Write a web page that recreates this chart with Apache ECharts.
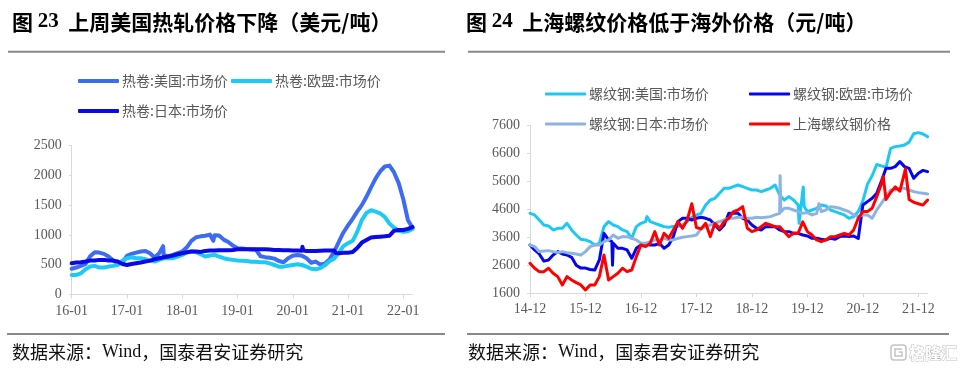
<!DOCTYPE html>
<html>
<head>
<meta charset="utf-8">
<script src="https://cdn.jsdelivr.net/npm/echarts@6/dist/echarts.min.js"></script>
<style>
html,body{margin:0;padding:0;background:#fff;}
#c{width:965px;height:371px;}
</style>
</head>
<body>
<div id="c"></div>
<script>
// ---------- Left chart: 热卷 (USD/t), monthly 2016-01 .. 2022-03 (index 0..74) ----------
const xTicksL = [0, 12, 24, 36, 48, 60, 72];
const xLabelsL = ['16-01', '17-01', '18-01', '19-01', '20-01', '21-01', '22-01'];
const hrcUS = [
  430,450,478,511,640,708,702,680,635,567,522,534,
  646,680,702,720,730,690,620,690,660,640,663,691,
  719,790,900,960,975,985,1005,995,990,920,880,820,
  775,770,760,755,750,640,625,615,600,560,540,606,
  650,662,650,606,530,550,500,520,590,720,880,1040,
  1160,1270,1390,1500,1640,1800,1950,2070,2150,2165,2050,1870,
  1600,1250,1120
];
const hrcUSExtra = [[19.85, 810], [30.75, 900]];
const hrcEU = [
  326,326,354,421,466,478,450,450,466,478,494,567,
  607,624,607,607,590,567,551,579,607,607,607,635,
  663,702,719,710,674,635,652,663,635,607,590,579,
  567,566,560,549,549,538,538,521,493,465,465,482,
  493,505,493,465,430,420,440,490,560,600,700,810,
  860,900,1050,1250,1370,1415,1390,1360,1300,1190,1120,1070,
  1050,1060,1100
];
const hrcEUExtra = [];
const hrcJP = [
  522,534,539,551,567,567,579,579,567,567,551,511,
  494,511,522,534,551,567,590,607,624,635,652,674,
  691,708,719,719,713,730,736,736,742,742,742,747,
  758,757,760,760,760,760,757,752,747,745,742,740,
  738,735,733,730,730,730,733,735,735,735,690,700,
  700,710,780,870,915,955,965,970,975,985,1070,1083,
  1083,1100,1130
];
const hrcJPExtra = [[50.1, 800], [50.3, 735], [57.3, 695]];

// ---------- Right chart: 螺纹钢 (CNY/t), monthly 2014-12 .. 2022-02 (index 0..86) ----------
const xTicksR = [0, 12, 24, 36, 48, 60, 72, 84];
const xLabelsR = ['14-12', '15-12', '16-12', '17-12', '18-12', '19-12', '20-12', '21-12'];
const rebarUS = [
  4457,4398,4219,4040,4005,3862,3921,3921,4100,3862,3683,3529,
  3505,3445,3326,3386,3981,4160,4040,3981,3862,3802,3564,3981,
  4100,4160,4160,4100,4040,3981,3957,3990,3990,4040,4160,4314,
  4398,4457,4755,4933,4993,5171,5350,5350,5410,5469,5410,5350,
  5290,5290,5231,5290,5350,5469,5112,4933,5052,4933,4755,4636,
  4517,4576,4636,4755,4719,4576,4517,4457,4398,4279,4338,4517,
  4900,5500,5800,6200,6150,6100,6779,6838,6862,6898,7000,7300,
  7338,7290,7195
];
const rebarUSExtra = [[25.3, 4340], [58.2, 4100], [58.6, 4700], [59.1, 5400], [59.3, 4700]];
const rebarEU = [
  3326,3148,3005,2750,2790,2969,3088,3005,2969,2886,2600,2500,
  2500,2450,2430,2790,3743,3505,3386,3207,3207,3148,2850,3207,
  3326,3386,3326,3326,3386,3207,3326,3624,4160,4279,4279,4219,
  4279,4314,4279,4219,4040,3862,4040,4457,4457,4457,4279,4219,
  4040,3921,3862,3981,3981,3981,3862,3802,3802,3743,3743,3683,
  3648,3564,3564,3529,3505,3564,3529,3624,3648,3624,3648,3560,
  4755,4874,4993,5171,5600,6064,6064,6124,6302,6124,6064,5707,
  5886,5990,5945
];
const rebarEUExtra = [[17.7, 3450], [17.85, 2600], [18.05, 3400]];
const rebarJP = [
  3326,3267,3088,3112,3124,3088,3052,3088,3052,3029,3005,2969,
  3088,3267,3326,3326,3445,3505,3683,3564,3624,3624,3564,3505,
  3386,3386,3445,3505,3505,3564,3505,3505,3564,3600,3624,3648,
  3683,3900,3981,4040,4100,4160,4219,4279,4279,4314,4314,4279,
  4279,4314,4302,4314,4338,4398,4457,4636,4636,4576,4517,4457,
  4481,4398,4457,4517,4576,4695,4671,4636,4576,4517,4398,4338,
  4398,4398,4279,4576,4814,5052,5290,5290,5350,5350,5290,5231,
  5195,5171,5148
];
const rebarJPExtra = [[54.1, 5800], [54.25, 4500], [62.5, 4800]];
const rebarSH = [
  2671,2493,2374,2374,2493,2314,2195,1898,2195,2076,1981,1898,
  1719,1898,1898,2195,2969,2076,2195,2314,2493,2374,2433,2910,
  3326,3267,3386,3802,3326,3743,3564,3862,4160,3921,4219,4800,
  3950,3900,4100,3624,4100,3921,4160,4279,4517,4576,4695,3921,
  3802,3862,3981,4100,4040,3981,3981,3802,3624,3743,3743,4150,
  3802,3683,3505,3445,3505,3624,3624,3683,3743,3683,3862,4279,
  4517,4517,4636,5052,5500,4950,5200,5400,5250,5900,4950,4850,
  4800,4750,4930
];
const rebarSHExtra = [[76.4, 5770], [81.2, 6050]];

// ---------- helpers ----------
function pts(vals, extra) {
  const p = vals.map((v, i) => [i, v]).concat(extra);
  p.sort((a, b) => a[0] - b[0]);
  return p;
}
const CJK = 'Noto Sans CJK SC';
const SERIF = 'Liberation Serif';
const axisGray = '#D9D9D9';
const labelGray = '#595959';

function lineSeries(name, data, color, width, xi) {
  return {
    name: name, type: 'line', data: data, xAxisIndex: xi, yAxisIndex: xi,
    showSymbol: false, symbol: 'none', color: color, animation: false,
    lineStyle: {color: color, width: width, cap: 'round', join: 'round'},
    emphasis: {disabled: true}
  };
}
function legendAt(name, left, top, h) {
  return {
    data: [name], left: left, top: top, padding: 0, icon: 'roundRect',
    itemWidth: 41, itemHeight: h, selectedMode: false,
    textStyle: {fontSize: 14, color: labelGray, fontFamily: CJK, padding: [0, 0, 0, -2]}
  };
}
function richTitle(text, left, top) {
  return {left: left, top: top, padding: 0, text: text,
    textStyle: {rich: {
      c: {fontSize: 21, fontWeight: 'bold', fontFamily: CJK, color: '#000', lineHeight: 24},
      n: {fontSize: 21, fontWeight: 'bold', fontFamily: SERIF, color: '#000', lineHeight: 24}}}};
}
function richFooter(left, top) {
  return {left: left, top: top, padding: 0,
    text: '{c|数据来源：}{w|Wind}{c|，国泰君安证券研究}',
    textStyle: {fontWeight: 'normal', rich: {
      c: {fontSize: 18, fontWeight: 'normal', fontFamily: CJK, color: '#111', lineHeight: 20},
      w: {fontSize: 18, fontWeight: 'normal', fontFamily: SERIF, color: '#111', lineHeight: 20}}}};
}

const chart = echarts.init(document.getElementById('c'), null, {renderer: 'canvas'});
const option = {
  backgroundColor: '#fff',
  animation: false,
  title: [
    richTitle('{c|图 }{n|23}{c|  上周美国热轧价格下降（美元/吨）}', 12, 10),
    richTitle('{c|图 }{n|24}{c|  上海螺纹价格低于海外价格（元/吨）}', 466, 10),
    richFooter(12, 342),
    richFooter(468, 342)
  ],
  legend: [
    legendAt('热卷:美国:市场价', 78, 74, 4),
    legendAt('热卷:欧盟:市场价', 231, 74, 4),
    legendAt('热卷:日本:市场价', 78, 104, 4),
    legendAt('螺纹钢:美国:市场价', 545, 87, 3),
    legendAt('螺纹钢:欧盟:市场价', 749, 87, 3),
    legendAt('螺纹钢:日本:市场价', 545, 117, 3),
    legendAt('上海螺纹钢价格', 749, 117, 3)
  ],
  grid: [
    {left: 71.7, top: 145.7, width: 340.8, height: 148.6, containLabel: false},
    {left: 530, top: 125.3, width: 397.6, height: 168, containLabel: false}
  ],
  xAxis: [
    {type: 'value', gridIndex: 0, min: 0, max: 74,
     axisLine: {lineStyle: {color: axisGray, width: 1}},
     axisTick: {show: true, length: 4, lineStyle: {color: axisGray}, customValues: xTicksL},
     axisLabel: {customValues: xTicksL, formatter: v => xLabelsL[Math.round(v / 12)] || '',
                 fontFamily: SERIF, fontSize: 14, color: labelGray, margin: 10},
     splitLine: {show: false}},
    {type: 'value', gridIndex: 1, min: 0, max: 86,
     axisLine: {lineStyle: {color: axisGray, width: 1}},
     axisTick: {show: true, length: 4, lineStyle: {color: axisGray}, customValues: xTicksR},
     axisLabel: {customValues: xTicksR, formatter: v => xLabelsR[Math.round(v / 12)] || '',
                 fontFamily: SERIF, fontSize: 14, color: labelGray, margin: 9},
     splitLine: {show: false}}
  ],
  yAxis: [
    {type: 'value', gridIndex: 0, min: 0, max: 2500, interval: 500,
     axisLine: {show: true, lineStyle: {color: axisGray, width: 1}},
     axisTick: {show: true, length: 3, lineStyle: {color: axisGray}},
     axisLabel: {fontFamily: SERIF, fontSize: 14, color: labelGray, margin: 10, formatter: v => String(v)},
     splitLine: {show: false}},
    {type: 'value', gridIndex: 1, min: 1600, max: 7600, interval: 1000,
     axisLine: {show: true, lineStyle: {color: axisGray, width: 1}},
     axisTick: {show: true, length: 3, lineStyle: {color: axisGray}},
     axisLabel: {fontFamily: SERIF, fontSize: 14, color: labelGray, margin: 10, formatter: v => String(v)},
     splitLine: {show: false}}
  ],
  series: [
    lineSeries('热卷:美国:市场价', pts(hrcUS, hrcUSExtra), '#3D6CF2', 4, 0),
    lineSeries('热卷:欧盟:市场价', pts(hrcEU, hrcEUExtra), '#1ECAF5', 4, 0),
    lineSeries('热卷:日本:市场价', pts(hrcJP, hrcJPExtra), '#0A0AE8', 4, 0),
    lineSeries('螺纹钢:美国:市场价', pts(rebarUS, rebarUSExtra), '#1DC8F4', 3, 1),
    lineSeries('螺纹钢:欧盟:市场价', pts(rebarEU, rebarEUExtra), '#0505EE', 3, 1),
    lineSeries('螺纹钢:日本:市场价', pts(rebarJP, rebarJPExtra), '#8DB3E2', 3, 1),
    lineSeries('上海螺纹钢价格', pts(rebarSH, rebarSHExtra), '#FF0000', 3, 1)
  ],
  graphic: [
    {type: 'line', shape: {x1: 8, y1: 51.7, x2: 445, y2: 51.7}, style: {stroke: '#888', lineWidth: 2}, silent: true},
    {type: 'line', shape: {x1: 468, y1: 51.7, x2: 950, y2: 51.7}, style: {stroke: '#888', lineWidth: 2}, silent: true},
    {type: 'line', shape: {x1: 7, y1: 334, x2: 445, y2: 334}, style: {stroke: '#888', lineWidth: 2}, silent: true},
    {type: 'line', shape: {x1: 467, y1: 334, x2: 949, y2: 334}, style: {stroke: '#888', lineWidth: 2}, silent: true},
    {type: 'rect', shape: {x: 891, y: 345, width: 15, height: 15, r: 3},
     style: {fill: '#fff', stroke: '#c4c4c4', lineWidth: 1.5}, silent: true},
    {type: 'polyline', shape: {points: [[902, 349], [895, 349], [895, 356], [902, 356], [902, 352], [899, 352]]},
     style: {fill: 'none', stroke: '#c4c4c4', lineWidth: 1.5}, silent: true},
    {type: 'text', x: 909, y: 353, silent: true,
     style: {text: '格隆汇', font: 'bold 16px "Noto Sans CJK SC"', fill: '#fff', stroke: '#bdbdbd',
             lineWidth: 1, verticalAlign: 'middle', align: 'left'}}
  ]
};
chart.setOption(option);
</script>
</body>
</html>
